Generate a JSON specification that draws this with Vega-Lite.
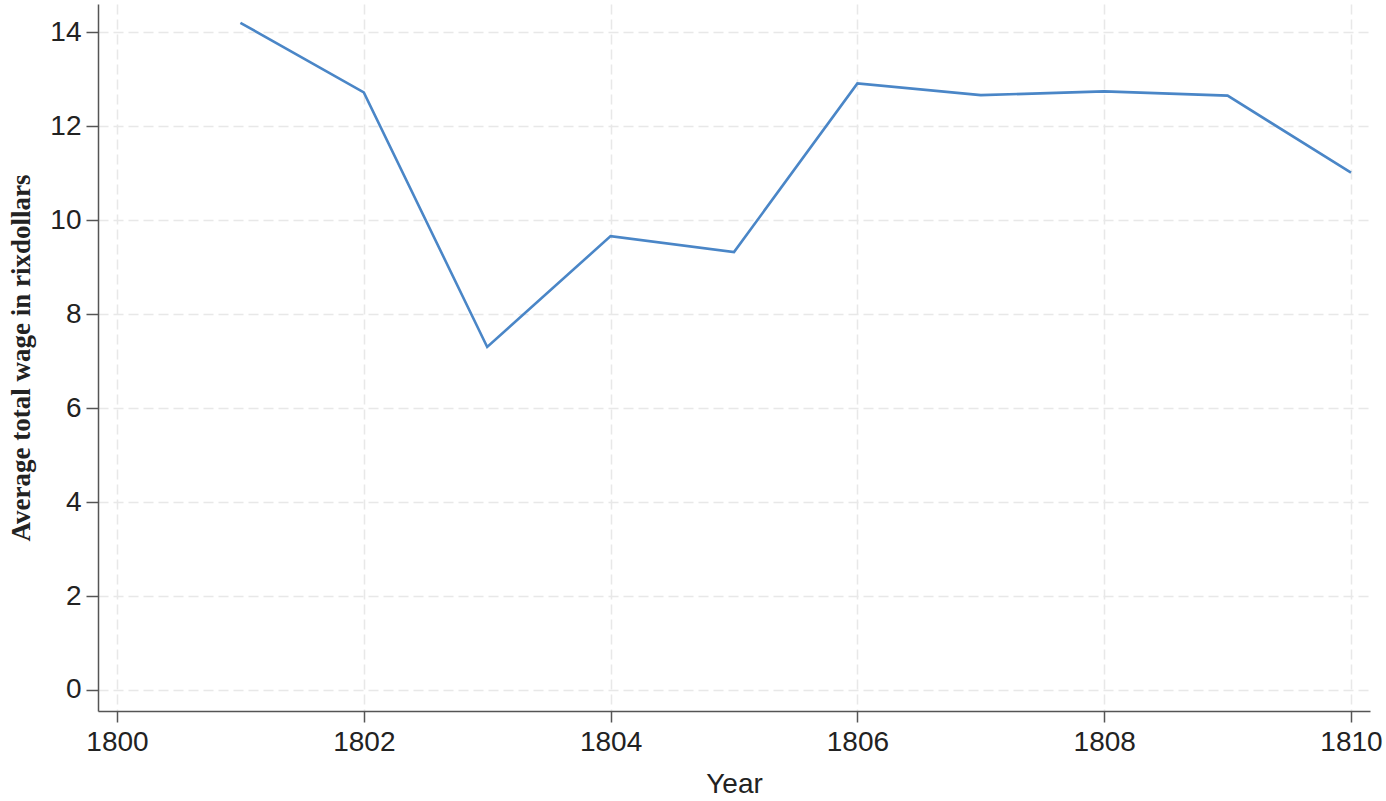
{
  "$schema": "https://vega.github.io/schema/vega-lite/v6.json",
  "width": 1272,
  "height": 707,
  "autosize": {"type": "none"},
  "padding": {"left": 98, "top": 4, "right": 16, "bottom": 90},
  "background": "white",
  "config": {"view": {"stroke": null}},
  "data": {"values": [
    {"Year": 1801, "Wage": 14.20},
    {"Year": 1802, "Wage": 12.72},
    {"Year": 1803, "Wage": 7.30},
    {"Year": 1804, "Wage": 9.66},
    {"Year": 1805, "Wage": 9.32},
    {"Year": 1806, "Wage": 12.91},
    {"Year": 1807, "Wage": 12.66},
    {"Year": 1808, "Wage": 12.74},
    {"Year": 1809, "Wage": 12.65},
    {"Year": 1810, "Wage": 11.01}
  ]},
  "mark": {"type": "line", "color": "#4a86c7", "strokeWidth": 2.6},
  "encoding": {
    "x": {"field": "Year", "type": "quantitative",
      "scale": {"domain": [1799.846, 1810.154], "nice": false, "zero": false},
      "axis": {"values": [1800, 1802, 1804, 1806, 1808, 1810], "format": "d", "title": "Year",
        "titleFont": "Liberation Sans", "titleFontSize": 28, "titleFontWeight": "normal", "titleColor": "#222", "titlePadding": 14,
        "labelFont": "Liberation Sans", "labelFontSize": 28, "labelColor": "#222", "labelPadding": 6,
        "tickSize": 11, "tickColor": "#555", "tickWidth": 1.5,
        "domainColor": "#555", "domainWidth": 1.5,
        "grid": true, "gridColor": "#e8e8e8", "gridDash": [10, 5], "gridWidth": 1.5}},
    "y": {"field": "Wage", "type": "quantitative",
      "scale": {"domain": [-0.447, 14.6], "nice": false, "zero": false},
      "axis": {"values": [0, 2, 4, 6, 8, 10, 12, 14], "title": "Average total wage in rixdollars",
        "titleFont": "Liberation Serif", "titleFontSize": 27, "titleFontWeight": "bold", "titleColor": "#222", "titlePadding": 14,
        "labelFont": "Liberation Sans", "labelFontSize": 28, "labelColor": "#222", "labelPadding": 5,
        "tickSize": 12, "tickColor": "#555", "tickWidth": 1.5,
        "domainColor": "#555", "domainWidth": 1.5,
        "grid": true, "gridColor": "#e8e8e8", "gridDash": [10, 5], "gridWidth": 1.5}}
  }
}
